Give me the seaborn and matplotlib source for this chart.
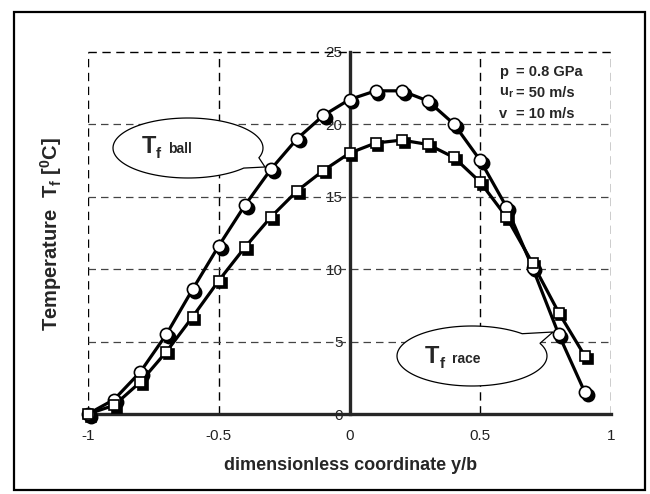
import numpy as np
import matplotlib
matplotlib.use("Agg")
import matplotlib.pyplot as plt
from matplotlib.patches import Polygon, Rectangle
from matplotlib.transforms import ScaledTranslation
import seaborn as sns

# ---- data ----
y_over_b = [-1.0, -0.9, -0.8, -0.7, -0.6, -0.5, -0.4, -0.3, -0.2, -0.1,
            0.0, 0.1, 0.2, 0.3, 0.4, 0.5, 0.6, 0.7, 0.8, 0.9]
t_ball = [0.0, 1.0, 2.9, 5.5, 8.6, 11.6, 14.4, 16.9, 19.0, 20.6,
          21.7, 22.3, 22.3, 21.6, 20.0, 17.5, 14.3, 10.1, 5.5, 1.5]
t_race = [0.0, 0.6, 2.2, 4.3, 6.7, 9.2, 11.5, 13.6, 15.4, 16.8,
          18.0, 18.7, 18.9, 18.6, 17.7, 16.0, 13.6, 10.4, 7.0, 4.0]
x_ticks = [-1, -0.5, 0, 0.5, 1]
x_tick_labels = ["-1", "-0.5", "0", "0.5", "1"]
y_ticks = [0, 5, 10, 15, 20, 25]
y_tick_labels = ["0", "5", "10", "15", "20", "25"]
params_names = ["p", "u$_r$", "v"]
params_values = ["= 0.8 GPa", "= 50 m/s", "= 10 m/s"]

sns.set_style("white")
plt.rcParams["font.family"] = ["Liberation Sans", "DejaVu Sans"]
plt.rcParams["mathtext.fontset"] = "custom"
plt.rcParams["mathtext.rm"] = "Liberation Sans:bold"
plt.rcParams["mathtext.it"] = "Liberation Sans:bold"
plt.rcParams["mathtext.bf"] = "Liberation Sans:bold"

W, H = 650, 494
fig = plt.figure(figsize=(6.5, 4.94), dpi=100)
fig.patch.set_facecolor("white")

def fx(px):
    return px / W

def fy(py):
    return 1 - py / H

ax = fig.add_axes([fx(88), fy(414), (611 - 88) / W, (414 - 51.7) / H])
ax.set_facecolor("white")
ax.set_xlim(-1, 1)
ax.set_ylim(0, 25)

# grid lines
for xv in [-1, -0.5, 0.5, 1]:
    ax.axvline(xv, color="black", lw=1.0, ls=(0, (6, 4)), zorder=1)
for yv in [5, 10, 15, 20]:
    ax.axhline(yv, color="#444444", lw=0.9, ls=(0, (6, 4)), zorder=1)
ax.axhline(25, color="black", lw=1.0, ls=(0, (6, 4)), zorder=1, clip_on=False)

# spines
for s in ["top", "right"]:
    ax.spines[s].set_visible(False)
ax.spines["left"].set_position(("data", 0))
ax.spines["left"].set_linewidth(2.4)
ax.spines["bottom"].set_linewidth(2.4)
ax.spines["left"].set_zorder(2)
ax.spines["bottom"].set_zorder(2)

ax.set_xticks(x_ticks)
ax.set_xticklabels(x_tick_labels)
ax.set_yticks(y_ticks)
ax.set_yticklabels(y_tick_labels)
ax.tick_params(axis="x", direction="inout", length=11, width=1.5, labelsize=11,
               pad=5, colors="black", labelcolor="#222222")
ax.tick_params(axis="y", direction="out", length=4, width=1.0, labelsize=11,
               pad=1, colors="black", labelcolor="#222222")

# data
off = ScaledTranslation(2.0 / 72, -2.0 / 72, fig.dpi_scale_trans)
for yv, mk, ms in [(t_ball, "o", 8.8), (t_race, "s", 7.8)]:
    sns.lineplot(x=y_over_b, y=yv, ax=ax, color="black", lw=2.3, zorder=3,
                 clip_on=False)
    sns.lineplot(x=y_over_b, y=yv, ax=ax, color="black", ls="", marker=mk,
                 markersize=ms, mfc="black", mec="black", mew=1.2, zorder=4,
                 clip_on=False)
    ax.lines[-1].set_transform(ax.transData + off)
    sns.lineplot(x=y_over_b, y=yv, ax=ax, color="black", ls="", marker=mk,
                 markersize=ms, mfc="white", mec="black", mew=1.2, zorder=5,
                 clip_on=False)

ax.set_xlabel("dimensionless coordinate y/b", fontsize=13, fontweight="bold",
              va="center")
ax.xaxis.set_label_coords((351 - 88) / 523, (414 - 465) / 362.3)
ax.set_ylabel("Temperature  T$_f$ [$^0$C]", fontsize=14.5, fontweight="bold",
              va="center")
ax.yaxis.set_label_coords((51 - 88) / 523, (414 - 234) / 362.3)

# callouts
def callout(cx, cy, a, b, t_start, t_end, tip):
    ts = np.radians(np.linspace(t_start, t_end, 120))
    pts = [(fx(cx + a * np.cos(t)), fy(cy - b * np.sin(t))) for t in ts]
    pts.append((fx(tip[0]), fy(tip[1])))
    poly = Polygon(pts, closed=True, facecolor="white", edgecolor="black",
                   lw=0.9, transform=fig.transFigure, zorder=2.5, clip_on=False)
    ax.add_patch(poly)

callout(188, 148, 75, 30, -19, 318, (265, 167))
callout(472, 356, 75, 30, 48, 385, (553, 332))

def label(x, y, sub):
    ax.text(fx(x), fy(y), "T", transform=fig.transFigure, fontsize=17,
            fontweight="bold", ha="left", va="baseline", zorder=6)
    ax.text(fx(x + 14.5), fy(y + 5), "f", transform=fig.transFigure,
            fontsize=11, fontweight="bold", ha="left", va="baseline", zorder=6)
    ax.text(fx(x + 27), fy(y), sub, transform=fig.transFigure, fontsize=10,
            fontweight="bold", ha="left", va="baseline", zorder=6)

label(141.5, 153, "ball")
label(425, 363, "race")

for i, (n, v) in enumerate(zip(params_names, params_values)):
    yy = 71.7 + 21 * i
    ax.text(fx(499), fy(yy), n, transform=fig.transFigure, fontsize=10.5,
            fontweight="bold", ha="left", va="center", zorder=6)
    ax.text(fx(516), fy(yy), v, transform=fig.transFigure, fontsize=10.5,
            fontweight="bold", ha="left", va="center", zorder=6)

# outer frame
fig.patches.append(Rectangle((fx(14), fy(490)), fx(645) - fx(14), fy(12) - fy(490),
                             transform=fig.transFigure, fill=False,
                             edgecolor="black", lw=1.6, figure=fig))

fig.savefig("out.png", dpi=100)
